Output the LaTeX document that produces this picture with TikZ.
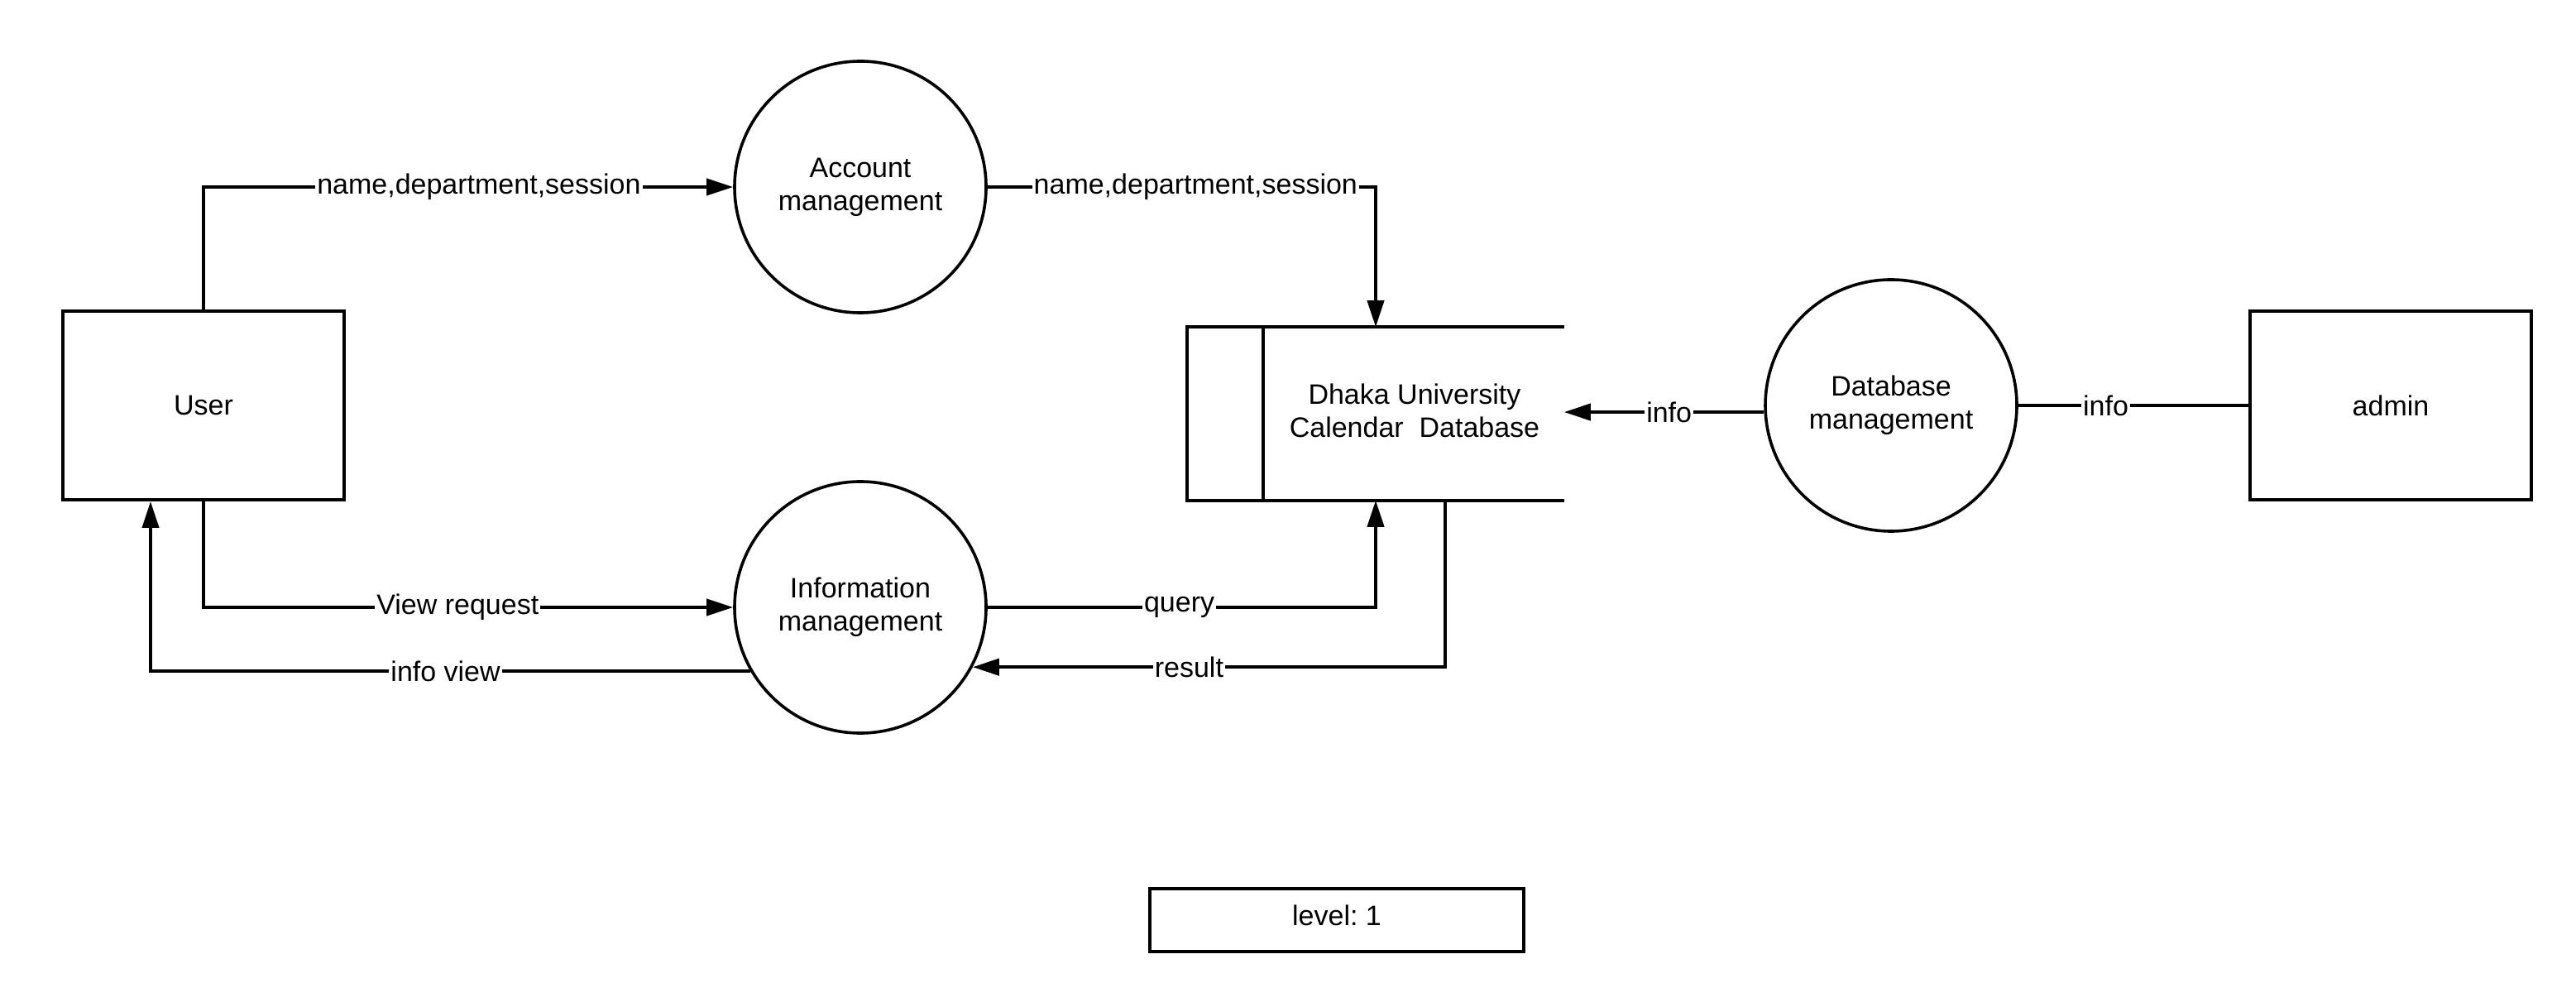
\documentclass[tikz,border=0pt]{standalone}
\usepackage{fontspec}
\setmainfont{Liberation Sans}
\usetikzlibrary{arrows.meta}
\frenchspacing
\begin{document}
\begin{tikzpicture}[x=0.5pt,y=-0.5pt,
  every node/.style={font=\fontsize{8.5}{10}\selectfont},
  proc/.style={circle, draw, line width=0.9pt, minimum size=76pt, inner sep=0pt, align=center},
  ent/.style={rectangle, draw, line width=1pt, minimum width=85pt, minimum height=57pt, align=center},
  flow/.style={line width=1pt, -{Triangle[length=8pt,width=5pt]}},
  plain/.style={line width=1pt},
  lab/.style={fill=white, inner xsep=0.5pt, inner ysep=1pt}]
\useasboundingbox (0,0) rectangle (1557,608.5);
% nodes
\node[ent] (user) at (123,245) {User};
\node[ent] (admin) at (1445,245) {admin};
\node[proc] (acc) at (520,113) {Account\\management};
\node[proc] (info) at (520,367) {Information\\management};
\node[proc] (dbm) at (1143,245) {Database\\management};
\node[rectangle, minimum width=113.5pt, minimum height=52pt, inner sep=0pt] (db) at (831.5,250) {};
\node[align=center] (dbtxt) at (855,248) {Dhaka University\\Calendar~~Database};
\node[rectangle, draw, line width=0.9pt, minimum width=113pt, minimum height=19pt] (lvl) at (808,556) {};
\node (lvltxt) at (808,553) {level: 1};
% data store outline
\draw[plain] (db.north east) -- (db.north west) -- (db.south west) -- (db.south east);
\draw[plain] ([xshift=23pt]db.north west) -- ([xshift=23pt]db.south west);
% flows
\draw[flow] (user.north) |- node[lab,pos=0.76] {name,department,session} (acc.west);
\draw[flow] (acc.east) -| node[lab,pos=0.268] {name,department,session} (db.north);
\draw[flow] (user.south) |- node[lab,pos=0.74] {View request} (info.west);
\draw[flow] (info.210.9) -| node[lab,pos=0.254] {info view} ([xshift=-16pt]user.south);
\draw[flow] (info.east) -| node[lab,pos=0.247] {query} (db.south);
\draw[flow] ([xshift=21pt]db.south) |- node[lab,pos=0.771] {result} (info.-28.3);
\draw[flow] (dbm.183.8) -- node[lab,pos=0.475] {info} (dbm.183.8 -| db.east);
\draw[plain] (dbm.east) -- node[lab,pos=0.38] {info} (admin.west);
\end{tikzpicture}
\end{document}
